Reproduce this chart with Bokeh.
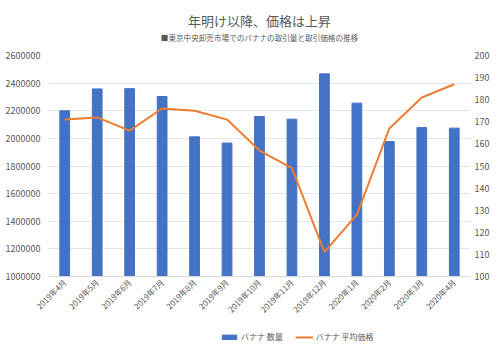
from bokeh.plotting import figure
from bokeh.models import (Range1d, LinearAxis, FixedTicker, BasicTickFormatter, Legend, LegendItem, Label,
                          FactorRange, ColumnDataSource)
from bokeh.layouts import column
from bokeh.embed import file_html
from bokeh.resources import INLINE
import math

months = ["2019年4月", "2019年5月", "2019年6月", "2019年7月", "2019年8月", "2019年9月", "2019年10月",
          "2019年11月", "2019年12月", "2020年1月", "2020年2月", "2020年3月", "2020年4月"]
quantity = [2200000, 2358000, 2360000, 2303000, 2011000, 1966000, 2158000,
            2139000, 2467000, 2255000, 1977000, 2079000, 2074000]
price = [171, 172, 166, 176, 175, 171, 157, 149, 111, 128, 167, 181, 187]

left_ticks = list(range(1000000, 2600001, 200000))
right_ticks = list(range(100, 201, 10))

title_text = "年明け以降、価格は上昇"
subtitle_text = "■東京中央卸売市場でのバナナの取引量と取引価格の推移"
series_names = ["バナナ 数量", "バナナ 平均価格"]

FONT = "Noto Sans CJK JP"
GREY = "#595959"
BLUE = "#4472C4"
ORANGE = "#ED7D31"

NOBORDER = dict(min_border=0, min_border_left=0, min_border_right=0, min_border_top=0, min_border_bottom=0)

# header strip with title and subtitle
hd = figure(width=500, height=48, x_range=Range1d(0, 500), y_range=Range1d(48, 0),
            x_axis_location=None, y_axis_location=None,
            output_backend="svg", toolbar_location=None, tools="", **NOBORDER)
hd.grid.visible = False
hd.outline_line_color = None
hd.add_layout(Label(x=250, y=20, text=title_text, text_align="center", text_baseline="middle",
                    text_font=FONT, text_font_size="13px", text_color=GREY))
hd.add_layout(Label(x=250, y=37, text=subtitle_text, text_align="center", text_baseline="middle",
                    text_font=FONT, text_font_size="7.6px", text_color=GREY))

# main chart
p = figure(width=500, height=277, x_range=FactorRange(*months), y_range=Range1d(1000000, 2600000),
           output_backend="svg", toolbar_location=None, tools="",
           min_border_left=48, min_border_right=30, min_border_top=7, min_border_bottom=49)
p.extra_y_ranges = {"price": Range1d(100, 200)}
p.outline_line_color = None

p.vbar(x=months, top=quantity, bottom=1000000, width=0.3, fill_color=BLUE, line_color=BLUE)
p.line(x=months, y=price, y_range_name="price", line_color=ORANGE, line_width=2)

la = p.yaxis[0]
la.ticker = FixedTicker(ticks=left_ticks)
la.formatter = BasicTickFormatter(use_scientific=False)
ra = LinearAxis(y_range_name="price", ticker=FixedTicker(ticks=right_ticks))
p.add_layout(ra, "right")
for ax in (la, ra):
    ax.axis_line_color = None
    ax.major_tick_line_color = None
    ax.minor_tick_line_color = None
    ax.major_tick_out = 0
    ax.major_tick_in = 0
    ax.major_label_text_font = FONT
    ax.major_label_text_font_size = "9px"
    ax.major_label_text_color = GREY
la.major_label_standoff = 8
ra.major_label_standoff = 4

xa = p.xaxis[0]
xa.axis_line_color = "#d9d9d9"
xa.major_tick_line_color = None
xa.minor_tick_line_color = None
xa.major_tick_out = 0
xa.major_label_standoff = 4
xa.major_label_orientation = math.pi / 4
xa.major_label_text_font = FONT
xa.major_label_text_font_size = "8px"
xa.major_label_text_color = GREY

p.xgrid.grid_line_color = None
p.ygrid.grid_line_color = "#e6e6e6"
p.ygrid.ticker = FixedTicker(ticks=left_ticks)

# legend strip (dummy renderers kept outside the visible range)
lg = figure(width=500, height=27, x_range=Range1d(0, 1), y_range=Range1d(0, 1),
            x_axis_location=None, y_axis_location=None,
            output_backend="svg", toolbar_location=None, tools="", **NOBORDER)
lg.grid.visible = False
lg.outline_line_color = None
dummy = ColumnDataSource(data=dict(x=[-5, -4], y=[-5, -4], top=[-5, -4]))
r_bar = lg.vbar(x="x", top="top", bottom=-6, width=0.1, source=dummy, fill_color=BLUE, line_color=BLUE)
r_line = lg.line(x="x", y="y", source=dummy, line_color=ORANGE, line_width=2)
legend = Legend(items=[LegendItem(label=series_names[0], renderers=[r_bar]),
                       LegendItem(label=series_names[1], renderers=[r_line])],
                orientation="horizontal", location=(172, 10), border_line_color=None,
                background_fill_alpha=0,
                label_text_font=FONT, label_text_font_size="8px", label_text_color=GREY,
                label_standoff=3, glyph_width=18, glyph_height=6, spacing=12, padding=0, margin=0)
lg.add_layout(legend)

layout = column(hd, p, lg, spacing=0)
open("out.html", "w").write(file_html(layout, INLINE))
